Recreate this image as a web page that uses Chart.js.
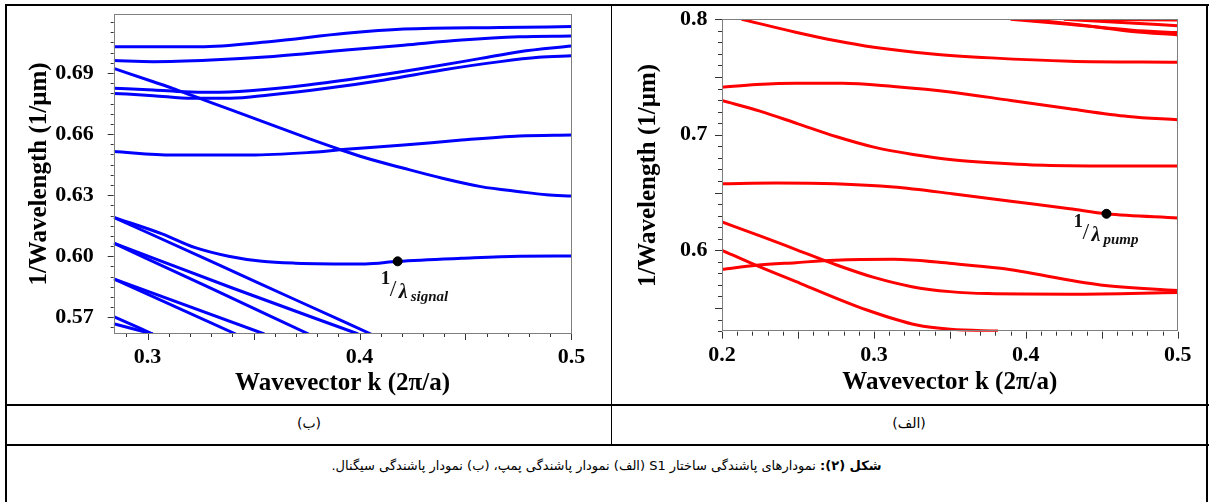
<!DOCTYPE html>
<html><head><meta charset="utf-8">
<script src="https://cdn.jsdelivr.net/npm/chart.js@4.4.1/dist/chart.umd.min.js"></script>
<style>
html,body{margin:0;padding:0;background:#fff;width:1213px;height:502px;overflow:hidden;}
.ln{position:absolute;background:#000;}
#cL{position:absolute;left:7px;top:6px;width:600px;height:398px;}
#cR{position:absolute;left:613px;top:6px;width:593px;height:398px;}
.lab{position:absolute;font-family:"DejaVu Sans",sans-serif;color:#000;white-space:nowrap;}
</style></head><body>
<div id="cL"><canvas id="sig"></canvas></div>
<div id="cR"><canvas id="pump"></canvas></div>
<div class="ln" style="left:5px;top:4px;width:1204px;height:2px"></div>
<div class="ln" style="left:5px;top:4px;width:2px;height:498px"></div>
<div class="ln" style="left:1206px;top:4px;width:2px;height:498px"></div>
<div class="ln" style="left:611px;top:4px;width:1px;height:442px"></div>
<div class="ln" style="left:5px;top:404px;width:1204px;height:2px"></div>
<div class="ln" style="left:5px;top:444px;width:1204px;height:2px"></div>
<div class="lab" style="left:7px;width:604px;top:415px;text-align:center;font-size:14px;direction:rtl">(ب)</div>
<div class="lab" style="left:612px;width:594px;top:415px;text-align:center;font-size:14px;direction:rtl">(الف)</div>
<div class="lab" style="left:7px;width:1199px;top:458px;text-align:center;font-size:13px;direction:rtl"><b>شکل (۲):</b> نمودارهای پاشندگی ساختار S1 (الف) نمودار پاشندگی پمپ، (ب) نمودار پاشندگی سیگنال.</div>
<script>
// ---------- (ب) signal dispersion: [k, 1/lambda] ----------
const sigBand1 = [[0.284,0.7029],[0.3245,0.7029],[0.3573,0.7054],[0.3936,0.7095],[0.4209,0.7116],[0.4664,0.7124],[0.5,0.7128]];
const sigBand2 = [[0.284,0.6961],[0.3027,0.6956],[0.33,0.6964],[0.3573,0.698],[0.3936,0.7013],[0.4209,0.7037],[0.4482,0.7062],[0.4755,0.7078],[0.5,0.7082]];
const sigBand3 = [[0.284,0.6825],[0.3027,0.6817],[0.3173,0.6808],[0.33,0.6805],[0.3482,0.6813],[0.3755,0.6841],[0.4027,0.6879],[0.43,0.6923],[0.4573,0.6972],[0.4755,0.7005],[0.5,0.7033]];
const sigBand4 = [[0.284,0.68],[0.3027,0.6789],[0.3209,0.6776],[0.3391,0.6776],[0.3573,0.6792],[0.3845,0.6825],[0.4118,0.6866],[0.4391,0.6915],[0.4664,0.6956],[0.4845,0.6977],[0.5,0.6985]];
const sigBand5 = [[0.284,0.6923],[0.3027,0.6857],[0.3118,0.6825],[0.3209,0.6790],[0.3391,0.6720],[0.3573,0.6650],[0.3755,0.6580],[0.39,0.6527],[0.4027,0.6484],[0.4209,0.6432],[0.4391,0.6383],[0.4573,0.6342],[0.4755,0.6317],[0.4882,0.6302],[0.5,0.6296]];
const sigBand6 = [[0.284,0.6514],[0.3118,0.6497],[0.3482,0.6497],[0.3755,0.6509],[0.3936,0.6525],[0.4209,0.6546],[0.4482,0.6571],[0.4755,0.6591],[0.5,0.6596]];
const sigBand7 = [[0.284,0.6191],[0.3068,0.6110],[0.3225,0.6042],[0.3382,0.6000],[0.354,0.5975],[0.3697,0.5966],[0.4027,0.5962],[0.418,0.5975],[0.4482,0.5990],[0.4755,0.6000],[0.5,0.6001]];
const sigLineA  = [[0.284,0.6191],[0.33,0.5975],[0.37,0.5785],[0.4054,0.5618]];
const sigLineB1 = [[0.284,0.6064],[0.33,0.5842],[0.376,0.5618]];
const sigLineB2 = [[0.284,0.6064],[0.34,0.5844],[0.3994,0.5618]];
const sigLineC1 = [[0.284,0.5889],[0.3416,0.5618]];
const sigLineC2 = [[0.284,0.5889],[0.3551,0.5618]];
const sigLineD1 = [[0.284,0.5703],[0.3024,0.5618]];
const sigLineD2 = [[0.284,0.5668],[0.3024,0.5618]];
const sigMarker = [[0.418,0.5975]];
const SIG_X_TICKS = [0.3,0.4,0.5];
const SIG_X_LABELS = ['0.3','0.4','0.5'];
const SIG_Y_TICKS = [0.57,0.60,0.63,0.66,0.69];
const SIG_Y_LABELS = ['0.57','0.60','0.63','0.66','0.69'];

// ---------- (الف) pump dispersion: [k, 1/lambda] ----------
const pumpBand1 = [[0.2129,0.8],[0.2485,0.7888],[0.2742,0.7816],[0.3,0.7758],[0.3387,0.77],[0.3773,0.7666],[0.4289,0.7637],[0.5,0.7628]];
const pumpBand2 = [[0.2,0.7412],[0.2227,0.7435],[0.2485,0.7447],[0.2794,0.7447],[0.3129,0.7418],[0.3515,0.7369],[0.3902,0.7297],[0.4289,0.7225],[0.4675,0.7159],[0.5,0.713]];
const pumpBand3 = [[0.2,0.7297],[0.225,0.7205],[0.25,0.7095],[0.275,0.6985],[0.3,0.6893],[0.3258,0.6830],[0.3515,0.6784],[0.3773,0.6758],[0.416,0.6735],[0.5,0.6729]];
const pumpBand4 = [[0.2,0.6576],[0.2356,0.6582],[0.2742,0.6576],[0.3129,0.6548],[0.3515,0.649],[0.3902,0.6424],[0.4289,0.636],[0.4531,0.6316],[0.5,0.628]];
const pumpBand5 = [[0.2,0.6245],[0.225,0.6125],[0.25,0.6],[0.275,0.5875],[0.3,0.5765],[0.325,0.5685],[0.35,0.5642],[0.375,0.5625],[0.43,0.562],[0.5,0.5634]];
const pumpBand6 = [[0.2,0.6],[0.2218,0.5873],[0.2514,0.5714],[0.2954,0.5483],[0.3283,0.5353],[0.3503,0.5316],[0.3817,0.53]];
const pumpBand7 = [[0.2,0.5835],[0.2227,0.587],[0.2485,0.5893],[0.2742,0.5914],[0.313,0.5922],[0.3515,0.5885],[0.3833,0.5844],[0.4492,0.57],[0.5,0.5652]];
const pumpTop1 = [[0.39,0.8],[0.43,0.7955],[0.47,0.7905],[0.5,0.7885]];
const pumpTop2 = [[0.40,0.8],[0.44,0.7945],[0.47,0.7895],[0.5,0.7865]];
const pumpTop3 = [[0.425,0.8],[0.46,0.7975],[0.5,0.7945]];
const pumpTop4 = [[0.43,0.8],[0.5,0.7995]];
const pumpMarker = [[0.4531,0.6316]];
const PUMP_X_TICKS = [0.2,0.3,0.4,0.5];
const PUMP_X_LABELS = ['0.2','0.3','0.4','0.5'];
const PUMP_Y_TICKS = [0.6,0.7,0.8];
const PUMP_Y_LABELS = ['0.6','0.7','0.8'];

const toPts = arr => arr.map(p => ({x:p[0], y:p[1]}));

const framePlugin = {
  id:'frame',
  afterDatasetsDraw(chart, args, o){
    const ctx = chart.ctx, a = chart.chartArea, xs = chart.scales.x, ys = chart.scales.y;
    ctx.save();
    ctx.strokeStyle = '#7f7f7f'; ctx.lineWidth = 1;
    ctx.strokeRect(Math.round(a.left)+0.5, Math.round(a.top)+0.5, Math.round(a.right-a.left)-1, Math.round(a.bottom-a.top)-1);
    ctx.strokeStyle = '#333'; ctx.beginPath();
    for (let i=o.xt.from;i<=o.xt.to;i++){
      const px = Math.round(xs.getPixelForValue(i*o.xt.unit))+0.5;
      const len = (i%o.xt.longEvery===0)?o.longLen:o.shortLen;
      ctx.moveTo(px,a.bottom); ctx.lineTo(px,a.bottom+len);
    }
    for (let i=o.yt.from;i<=o.yt.to;i++){
      const py = Math.round(ys.getPixelForValue(i*o.yt.unit))+0.5;
      const len = (i%o.yt.longEvery===0)?o.longLen:o.shortLen;
      ctx.moveTo(a.left,py); ctx.lineTo(a.left-len,py);
    }
    ctx.stroke();
    // annotation
    const m = o.mark;
    const mx = xs.getPixelForValue(m.k), my = ys.getPixelForValue(m.y);
    ctx.fillStyle = '#111'; ctx.textBaseline = 'alphabetic'; ctx.textAlign='left';
    ctx.font = 'bold 19px "Liberation Serif", serif';
    ctx.fillText('1', mx+m.dx, my+m.dy);
    ctx.font = '24px "Liberation Serif", serif';
    ctx.fillText('/', mx+m.dx+9, my+m.dy+12);
    ctx.font = 'bold italic 20px "Liberation Serif", serif';
    ctx.fillText('λ', mx+m.dx+18, my+m.dy+14);
    ctx.font = 'bold italic 15px "Liberation Serif", serif';
    ctx.fillText(m.sub, mx+m.dx+30, my+m.dy+17);
    ctx.restore();
  }
};

function lineDs(pts, color){
  return {data: toPts(pts), showLine:true, borderColor:color, backgroundColor:color, borderWidth:3,
          pointRadius:0, cubicInterpolationMode:'monotone', fill:false};
}

function makeChart(id, cfg){
  return new Chart(document.getElementById(id), {
    type:'scatter',
    data:{datasets:[
      {data: toPts(cfg.marker), pointRadius:4.5, pointBackgroundColor:'#000', pointBorderColor:'#000', showLine:false},
      ...cfg.curves.map(c => lineDs(c, cfg.color))
    ]},
    options:{
      responsive:true, maintainAspectRatio:false, animation:false,
      layout:{padding:cfg.pad},
      plugins:{legend:{display:false}, tooltip:{enabled:false}, frame:cfg.frame},
      scales:{
        x:{type:'linear', min:cfg.xmin, max:cfg.xmax,
           grid:{display:false, drawTicks:false}, border:{display:false},
           afterBuildTicks:s=>{s.ticks = cfg.xTicks.map(v=>({value:v}));},
           afterFit:s=>{s.height = cfg.xH; s.paddingLeft=0; s.paddingRight=0;},
           ticks:{autoSkip:false, maxRotation:0, padding:cfg.xTickPad, color:'#000',
                  font:{family:'"Liberation Serif", serif', weight:'bold', size:22, lineHeight:1.2},
                  callback:(v,i)=>cfg.xLabels[i]},
           title:{display:true, text:'Wavevector k (2π/a)', color:'#000', padding:{top:0,bottom:cfg.xTitlePad},
                  font:{family:'"Liberation Serif", serif', weight:'bold', size:25, lineHeight:1.2}}},
        y:{type:'linear', min:cfg.ymin, max:cfg.ymax,
           grid:{display:false, drawTicks:false}, border:{display:false},
           afterBuildTicks:s=>{s.ticks = cfg.yTicks.map(v=>({value:v}));},
           afterFit:s=>{s.width = cfg.yW; s.paddingTop=0; s.paddingBottom=0;},
           ticks:{autoSkip:false, padding:cfg.yTickPad, color:'#000',
                  font:{family:'"Liberation Serif", serif', weight:'bold', size:22, lineHeight:1.2},
                  callback:(v,i)=>cfg.yLabels[i]},
           title:{display:true, text:'1/Wavelength (1/μm)', color:'#000', padding:{top:cfg.yTitlePad,bottom:0},
                  font:{family:'"Liberation Serif", serif', weight:'bold', size:25, lineHeight:1.2}}}
      }
    },
    plugins:[framePlugin]
  });
}

makeChart('sig', {
  color:'#0000ff', marker:sigMarker,
  curves:[sigBand1,sigBand2,sigBand3,sigBand4,sigBand5,sigBand6,sigBand7,sigLineA,sigLineB1,sigLineB2,sigLineC1,sigLineC2,sigLineD1,sigLineD2],
  xmin:0.284, xmax:0.5, ymin:0.5618, ymax:0.719,
  xTicks:SIG_X_TICKS, xLabels:SIG_X_LABELS, yTicks:SIG_Y_TICKS, yLabels:SIG_Y_LABELS,
  pad:{left:0, top:8, right:35.6, bottom:0}, xH:70, yW:106.7,
  xTickPad:10, xTitlePad:5, yTickPad:20, yTitlePad:18,
  frame:{longLen:6, shortLen:3, xt:{from:29,to:50,unit:0.01,longEvery:5}, yt:{from:113,to:143,unit:0.005,longEvery:6},
         mark:{k:sigMarker[0][0], y:sigMarker[0][1], dx:-17, dy:23, sub:'signal'}}
});

makeChart('pump', {
  color:'#ff0000', marker:pumpMarker,
  curves:[pumpBand1,pumpBand2,pumpBand3,pumpBand4,pumpBand5,pumpBand6,pumpBand7,pumpTop1,pumpTop2,pumpTop3,pumpTop4],
  xmin:0.2, xmax:0.5, ymin:0.5295, ymax:0.8,
  xTicks:PUMP_X_TICKS, xLabels:PUMP_X_LABELS, yTicks:PUMP_Y_TICKS, yLabels:PUMP_Y_LABELS,
  pad:{left:0, top:13.3, right:28.3, bottom:0}, xH:72.3, yW:109,
  xTickPad:10, xTitlePad:6, yTickPad:14.5, yTitlePad:21,
  frame:{longLen:7, shortLen:4, xt:{from:20,to:50,unit:0.01,longEvery:5}, yt:{from:53,to:80,unit:0.01,longEvery:5},
         mark:{k:pumpMarker[0][0], y:pumpMarker[0][1], dx:-33, dy:13, sub:'pump'}}
});
</script>
</body></html>
